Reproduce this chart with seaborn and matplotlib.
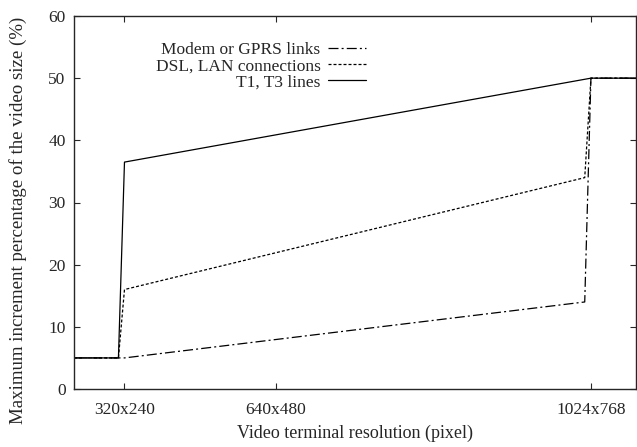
import matplotlib
matplotlib.use("Agg")
import matplotlib.pyplot as plt
import seaborn as sns
import pandas as pd

# x = number of pixels of the terminal (width * height)
tick_pos = [320 * 240, 640 * 480, 1024 * 768]
tick_labels = ["320x240", "640x480", "1024x768"]

modem_x = [0, 76800, 777000, 786432, 855000]
modem_y = [5, 5, 14, 50, 50]

dsl_x = [0, 67600, 76800, 777000, 786432, 855000]
dsl_y = [5, 5, 16, 34, 50, 50]

t1_x = [0, 67600, 76800, 786432, 855000]
t1_y = [5, 5, 36.5, 50, 50]

sns.set_style("ticks")
plt.rcParams['font.family'] = ['Liberation Serif', 'DejaVu Serif']
plt.rcParams['font.size'] = 13

fig, ax = plt.subplots(figsize=(6.37, 4.47), dpi=100)
fig.subplots_adjust(left=74/637, right=636/637, bottom=1 - 389/447, top=1 - 16/447)

series = [
    ("Modem or GPRS links", modem_x, modem_y, (0, (8, 2.5, 1.6, 2.5))),
    ("DSL, LAN connections", dsl_x, dsl_y, (0, (2.4, 1.6))),
    ("T1, T3 lines", t1_x, t1_y, "-"),
]
for nombre, xs, ys, estilo in series:
    df = pd.DataFrame({"x": xs, "y": ys})
    sns.lineplot(data=df, x="x", y="y", ax=ax, color="black", linewidth=0.9,
                 linestyle=estilo, sort=False, estimator=None, label=nombre)

ax.set_xlim(0, 855000)
ax.set_ylim(0, 60)
ax.set_xticks(tick_pos)
ax.set_xticklabels(tick_labels)
ax.set_yticks(range(0, 61, 10))
ax.tick_params(direction="in", top=True, right=True, length=4, width=0.8, labelsize=12.5, pad=6)
ax.tick_params(axis="x", pad=9)
for s in ax.spines.values():
    s.set_linewidth(1.0)
    s.set_visible(True)

ax.set_xlabel("Video terminal resolution (pixel)", fontsize=13, labelpad=5)
ax.set_ylabel("Maximum increment percentage of the video size (%)", fontsize=13.6)
ax.yaxis.set_label_coords(-0.084, 0.453)

ax.legend(loc="upper right", bbox_to_anchor=(0.542, 0.963), frameon=False, markerfirst=False,
          handlelength=2.2, handletextpad=0.45, labelspacing=0.0, fontsize=12.5, borderpad=0.2)

plt.savefig("out.png", dpi=100)
plt.close()
